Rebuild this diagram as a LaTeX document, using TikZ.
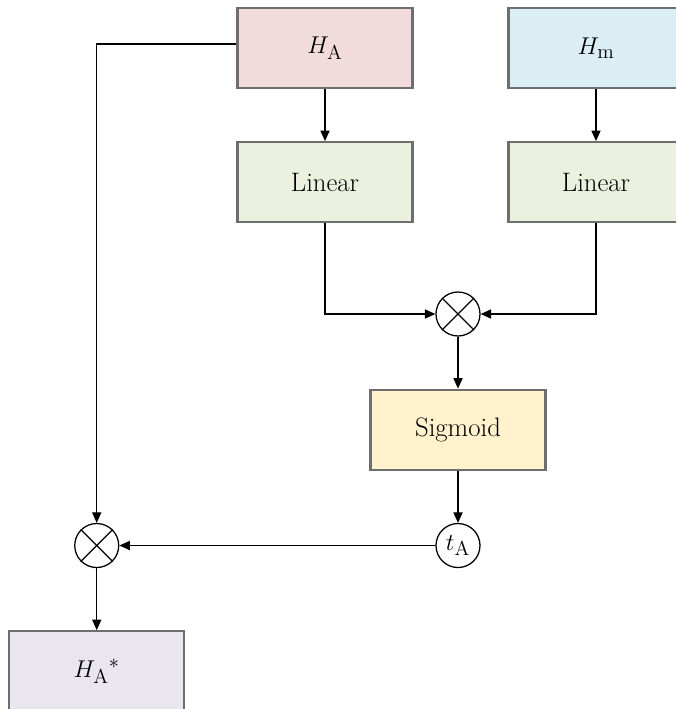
\documentclass[tikz,border=0pt]{standalone}
\usepackage{amsmath}
\usepackage{tikz}
\usetikzlibrary{arrows.meta, positioning, calc}

\definecolor{cHA}{RGB}{242,220,219}
\definecolor{cHm}{RGB}{218,238,243}
\definecolor{cLin}{RGB}{235,241,222}
\definecolor{cSig}{RGB}{255,242,204}
\definecolor{cOut}{RGB}{234,230,240}
\definecolor{cEdge}{RGB}{110,110,110}

\begin{document}
\begin{tikzpicture}
	[
	block/.style = {rectangle, draw = cEdge, line width = 1.6pt, minimum width = 4.375cm, minimum height = 2cm, font = \fontsize{19}{22}\selectfont},
	opnode/.style = {circle, draw, line width = 0.9pt, inner sep = 0cm, minimum size = 1.1cm, font = \fontsize{19}{22}\selectfont},
	tip/.style = {
		->,
		line width = 0.9pt,
		>={Triangle[width=6.5pt,length=7.5pt]}
	}
	]
	\useasboundingbox (0,0) rectangle (16.875,-17.725);
	
	\node[block, fill = cHA] (HA) at (8.125,-1.2) {$H_\mathrm{A}$};
	\node[block, fill = cHm] (Hm) at (14.9,-1.2) {$H_\mathrm{m}$};
	\node[block, fill = cLin, below = 1.3cm of HA] (linL) {Linear};
	\node[block, fill = cLin, below = 1.3cm of Hm] (linR) {Linear};
	\node[opnode] (mulT) at (11.45,-7.85) {};
	\node[block, fill = cSig, below = 1.3cm of mulT] (sig) {Sigmoid};
	\node[opnode, below = 1.3cm of sig] (tA) {$t_\mathrm{A}$};
	\node[opnode, left = 7.9cm of tA] (mulL) {};
	\node[block, fill = cOut, below = 1.55cm of mulL] (HAs) {$H_\mathrm{A}{}^{*}$};
	
	% crosses in the product nodes
	\draw[line width = 0.9pt] (mulT.north west) -- (mulT.south east) (mulT.north east) -- (mulT.south west);
	\draw[line width = 0.9pt] (mulL.north west) -- (mulL.south east) (mulL.north east) -- (mulL.south west);
	
	\draw[tip] (HA) -- (linL);
	\draw[tip] (Hm) -- (linR);
	\draw[tip] (linL.south) |- (mulT.west);
	\draw[tip] (linR.south) |- (mulT.east);
	\draw[tip] (mulT) -- (sig);
	\draw[tip] (sig) -- (tA);
	\draw[tip] (tA) -- (mulL);
	\draw[tip] ([yshift=0.1cm]HA.west) -| (mulL);
	\draw[tip] (mulL) -- (HAs);
\end{tikzpicture}
\end{document}
